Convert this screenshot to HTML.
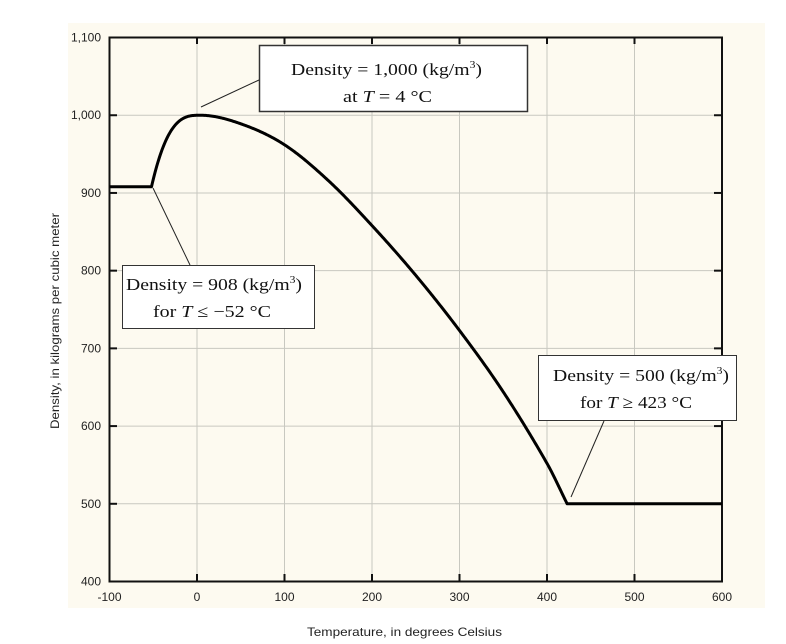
<!DOCTYPE html>
<html><head><meta charset="utf-8"><style>
html,body{margin:0;padding:0;background:#fff;}
svg{display:block}
.t{font-family:"Liberation Sans",sans-serif;font-size:12px;fill:#222}
.b{font-family:"Liberation Serif",serif;font-size:17px;fill:#111}
</style></head><body>
<svg id="s" width="786" height="644" xmlns="http://www.w3.org/2000/svg">
<rect x="68" y="23" width="697" height="585" fill="#fdfaf0"/>
<g id="grid" stroke="#c8c8c0" stroke-width="1"></g>
<g id="lab"></g>
<rect x="109.5" y="37.5" width="612.5" height="544" fill="none" stroke="#111" stroke-width="2"/>
<path id="curve" fill="none" stroke="#000" stroke-width="3" stroke-linejoin="round"/>
<line x1="259" y1="80" x2="201" y2="107" stroke="#222" stroke-width="1"/>
<line x1="153" y1="188" x2="190" y2="265" stroke="#222" stroke-width="1"/>
<line x1="604" y1="421" x2="571" y2="497" stroke="#222" stroke-width="1"/>
<rect x="259.5" y="45.5" width="268" height="66" fill="#fff" stroke="#333" stroke-width="1.5"/>
<text class="b" x="291" y="75" textLength="191" lengthAdjust="spacingAndGlyphs">Density = 1,000 (kg/m<tspan font-size="10" dy="-7">3</tspan><tspan dy="7">)</tspan></text>
<text class="b" x="343" y="102" textLength="89" lengthAdjust="spacingAndGlyphs">at <tspan font-style="italic">T</tspan> = 4 °C</text>
<rect x="122.5" y="265.5" width="192" height="63" fill="#fff" stroke="#333"/>
<text class="b" x="126" y="290" textLength="176" lengthAdjust="spacingAndGlyphs">Density = 908 (kg/m<tspan font-size="10" dy="-7">3</tspan><tspan dy="7">)</tspan></text>
<text class="b" x="153" y="317" textLength="118" lengthAdjust="spacingAndGlyphs">for <tspan font-style="italic">T</tspan> ≤ −52 °C</text>
<rect x="538.5" y="355.5" width="198" height="65" fill="#fff" stroke="#333"/>
<text class="b" x="553" y="381" textLength="176" lengthAdjust="spacingAndGlyphs">Density = 500 (kg/m<tspan font-size="10" dy="-7">3</tspan><tspan dy="7">)</tspan></text>
<text class="b" x="580" y="408" textLength="112" lengthAdjust="spacingAndGlyphs">for <tspan font-style="italic">T</tspan> ≥ 423 °C</text>
<text class="t" x="307" y="636" font-size="13" textLength="195" lengthAdjust="spacingAndGlyphs">Temperature, in degrees Celsius</text>
<text class="t" transform="translate(59,321) rotate(-90)" text-anchor="middle" font-size="13" textLength="216" lengthAdjust="spacingAndGlyphs">Density, in kilograms per cubic meter</text>
</svg>
<script>
var X=function(t){return 109.5+(t+100)*0.875};
var Y=function(d){return 581.5-(d-400)*0.7771};
var g=document.getElementById('grid'),l=document.getElementById('lab'),ns='http://www.w3.org/2000/svg';
function el(p,tag,a,txt){var e=document.createElementNS(ns,tag);for(var k in a)e.setAttribute(k,a[k]);if(txt)e.textContent=txt;p.appendChild(e);}
for(var t=-100;t<=600;t+=100){var x=X(t);
 if(t>-100&&t<600){el(g,'line',{x1:x,y1:37,x2:x,y2:581});
 el(g,'line',{x1:x,y1:37,x2:x,y2:44,stroke:'#111','stroke-width':2});
 el(g,'line',{x1:x,y1:574,x2:x,y2:581,stroke:'#111','stroke-width':2});}
 el(l,'text',{'class':'t',x:x,y:601,'text-anchor':'middle'},String(t));}
var ys=['400','500','600','700','800','900','1,000','1,100'];
for(var i=0;i<8;i++){var d=400+i*100,y=Y(d);
 if(i>0&&i<7){el(g,'line',{x1:109,y1:y,x2:722,y2:y});
 el(g,'line',{x1:109,y1:y,x2:117,y2:y,stroke:'#111','stroke-width':2});
 el(g,'line',{x1:714,y1:y,x2:722,y2:y,stroke:'#111','stroke-width':2});}
 el(l,'text',{'class':'t',x:101,y:y+4,'text-anchor':'end'},ys[i]);}
var P=[[4,1000],[50,989],[100,962],[150,916],[200,858],[250,794],[300,723],[350,644],[400,552],[423,500]];
function interp(t){for(var i=0;i<P.length-1;i++){if(t<=P[i+1][0]){
 var p0=P[Math.max(i-1,0)],p1=P[i],p2=P[i+1],p3=P[Math.min(i+2,P.length-1)];
 var h=p2[0]-p1[0],s=(t-p1[0])/h;
 var m1=(p2[1]-p0[1])/(p2[0]-p0[0])*h,m2=(p3[1]-p1[1])/(p3[0]-p1[0])*h;
 if(i==0)m1=0;
 var s2=s*s,s3=s2*s;
 return (2*s3-3*s2+1)*p1[1]+(s3-2*s2+s)*m1+(-2*s3+3*s2)*p2[1]+(s3-s2)*m2;}}return 500;}
function dens(t){if(t<=-52)return 908;if(t<=4)return 1000-92*Math.pow((4-t)/56,3);
 if(t<=423)return interp(t);return 500;}
var p='M'+X(-100)+' '+Y(908);
for(var t=-52;t<=600;t+=1){p+=' L'+X(t).toFixed(2)+' '+Y(dens(t)).toFixed(2);}
document.getElementById('curve').setAttribute('d',p);
</script>
</body></html>
